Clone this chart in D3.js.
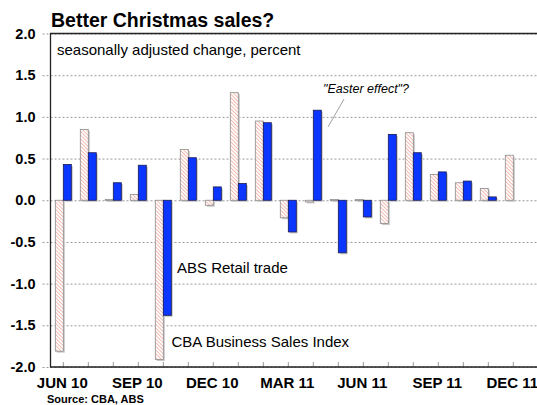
<!DOCTYPE html>
<html>
<head>
<meta charset="utf-8">
<script src="https://cdnjs.cloudflare.com/ajax/libs/d3/7.8.5/d3.min.js"></script>
<style>
  body { margin: 0; background: #fff; }
  svg { display: block; font-family: "Liberation Sans", Arial, sans-serif; }
</style>
</head>
<body>
<div id="chart"></div>
<script>
var months = ["Jun 10", "Jul 10", "Aug 10", "Sep 10", "Oct 10", "Nov 10", "Dec 10",
              "Jan 11", "Feb 11", "Mar 11", "Apr 11", "May 11", "Jun 11", "Jul 11",
              "Aug 11", "Sep 11", "Oct 11", "Nov 11", "Dec 11"];
var cbaValues = [-1.81, 0.85, 0.01, 0.07, -1.91, 0.61, -0.06, 1.29, 0.95, -0.21, -0.02, 0.01,
                 0.01, -0.28, 0.81, 0.31, 0.21, 0.14, 0.54];
var absValues = [0.43, 0.57, 0.21, 0.42, -1.38, 0.51, 0.16, 0.20, 0.93, -0.38, 1.08, -0.63,
                 -0.20, 0.79, 0.57, 0.34, 0.23, 0.04, null];
var tickMonths = ["Jun 10", "Sep 10", "Dec 10", "Mar 11", "Jun 11", "Sep 11", "Dec 11"];
var yTicks = [-2, -1.5, -1, -0.5, 0, 0.5, 1, 1.5, 2];

var width = 537, height = 405;
var plotLeft = 50.5, plotTop = 33.5, plotBottom = 367;

var svg = d3.select("#chart").append("svg")
    .attr("width", width)
    .attr("height", height);

// diagonal hatch for the CBA bars
var pat = svg.append("defs").append("pattern")
    .attr("id", "hatch")
    .attr("patternUnits", "userSpaceOnUse")
    .attr("width", 2.6)
    .attr("height", 2.6)
    .attr("patternTransform", "rotate(-45)");
pat.append("rect").attr("width", 2.6).attr("height", 2.6).attr("fill", "#fff");
pat.append("line")
    .attr("x1", 0).attr("y1", 0).attr("x2", 0).attr("y2", 2.6)
    .attr("stroke", "#f0998a")
    .attr("stroke-width", 1.3);

var x = d3.scaleBand()
    .domain(months)
    .range([50.8, 50.8 + months.length * 25]);

var xs = d3.scaleBand()
    .domain(["cba", "abs"])
    .range([0, x.bandwidth()])
    .paddingOuter(0.5625);

var y = d3.scaleLinear()
    .domain([-2, 2])
    .range([plotBottom, plotTop]);

// gridlines + y labels
var yAxis = svg.append("g")
    .attr("transform", "translate(" + plotLeft + ",0)")
    .call(d3.axisLeft(y)
      .tickValues(yTicks)
      .tickSize(-(width - plotLeft))
      .tickPadding(15)
      .tickFormat(function(d) { return d.toFixed(1); }));
yAxis.select(".domain").remove();
yAxis.selectAll(".tick line")
    .attr("x1", -8)
    .attr("stroke", "#999")
    .attr("stroke-dasharray", "2,2");
yAxis.selectAll(".tick text")
    .attr("fill", "#000")
    .style("font-size", "14.5px")
    .style("font-weight", "bold");

// month ticks
svg.append("g").selectAll("line")
    .data(months)
  .enter().append("line")
    .attr("x1", function(d) { return x(d) + x.bandwidth() / 2; })
    .attr("x2", function(d) { return x(d) + x.bandwidth() / 2; })
    .attr("y1", plotBottom - 5)
    .attr("y2", plotBottom)
    .attr("stroke", "#999");

// bars
var rows = months.map(function(m, i) {
  return [{month: m, key: "cba", value: cbaValues[i]},
          {month: m, key: "abs", value: absValues[i]}];
});
var bars = d3.merge(rows).filter(function(d) { return d.value !== null; });

function barY(d) { return y(Math.max(0, d.value)); }
function barH(d) { return Math.max(1, Math.abs(y(d.value) - y(0))); }

svg.append("g").selectAll("rect")
    .data(bars)
  .enter().append("rect")
    .attr("x", function(d) { return x(d.month) + xs(d.key) + 1.5; })
    .attr("y", function(d) { return barY(d) + 1.5; })
    .attr("width", xs.bandwidth())
    .attr("height", barH)
    .attr("fill", "#c8c8c8");

svg.append("g").selectAll("rect")
    .data(bars)
  .enter().append("rect")
    .attr("x", function(d) { return x(d.month) + xs(d.key); })
    .attr("y", barY)
    .attr("width", xs.bandwidth())
    .attr("height", barH)
    .attr("fill", function(d) { return d.key === "cba" ? "url(#hatch)" : "#0a36ff"; })
    .attr("stroke", function(d) { return d.key === "cba" ? "#8c8c8c" : "#1a1a50"; })
    .attr("stroke-width", 0.8);

// frame
svg.append("path")
    .attr("d", "M" + width + "," + plotTop + "H" + plotLeft + "V" + plotBottom + "H" + width)
    .attr("fill", "none")
    .attr("stroke", "#222")
    .attr("stroke-width", 1.3);

// x labels
svg.append("g").selectAll("text")
    .data(tickMonths)
  .enter().append("text")
    .attr("x", function(d) { return x(d) + x.bandwidth() / 2 - 1; })
    .attr("y", 388)
    .attr("text-anchor", "middle")
    .style("font-size", "15px")
    .style("font-weight", "bold")
    .text(function(d) { return d.toUpperCase(); });

// titles
svg.append("text")
    .attr("x", 51)
    .attr("y", 27)
    .style("font-size", "19.5px")
    .style("font-weight", "bold")
    .text("Better Christmas sales?");

svg.append("text")
    .attr("x", 57)
    .attr("y", 54.5)
    .style("font-size", "15px")
    .text("seasonally adjusted change, percent");

svg.append("text")
    .attr("x", 47)
    .attr("y", 403)
    .style("font-size", "11px")
    .style("font-weight", "bold")
    .text("Source: CBA, ABS");

// annotations
svg.append("text")
    .attr("x", 177)
    .attr("y", 273)
    .style("font-size", "15px")
    .text("ABS Retail trade");

svg.append("text")
    .attr("x", 171.5)
    .attr("y", 346.5)
    .style("font-size", "15px")
    .text("CBA Business Sales Index");

svg.append("text")
    .attr("x", 323)
    .attr("y", 93)
    .style("font-size", "12.5px")
    .style("font-style", "italic")
    .text("\"Easter effect\"?");

svg.append("line")
    .attr("x1", 344).attr("y1", 99)
    .attr("x2", 328).attr("y2", 127)
    .attr("stroke", "#888")
    .attr("stroke-width", 0.8);
</script>
</body>
</html>
